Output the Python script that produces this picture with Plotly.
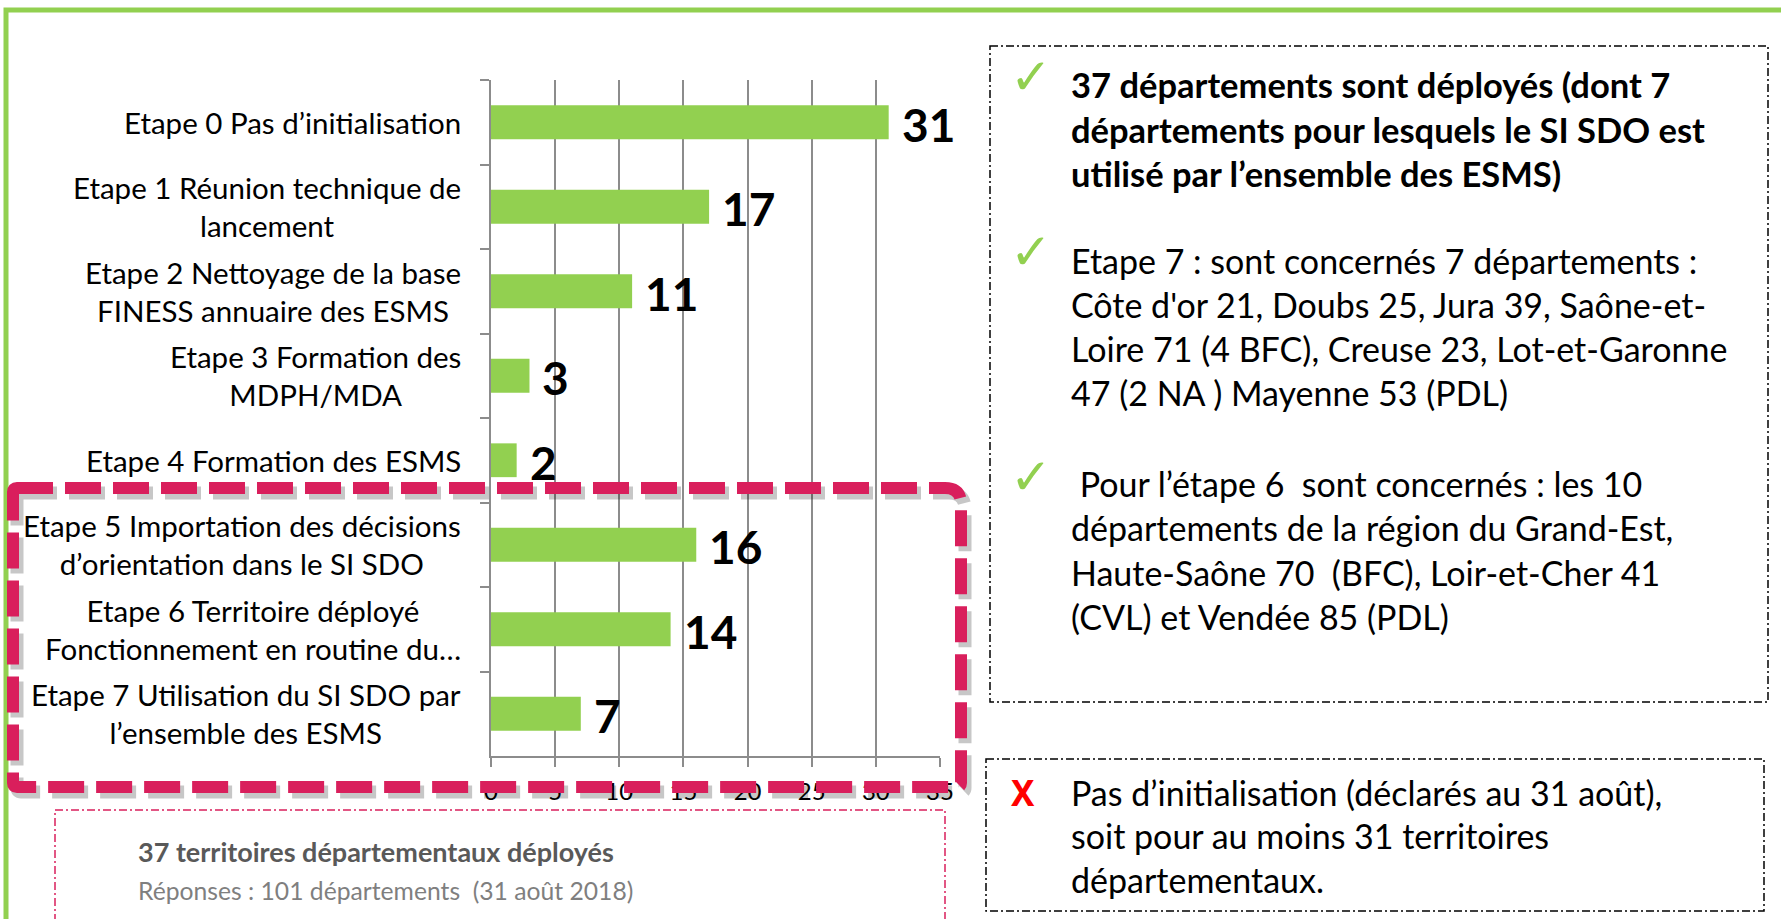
import plotly.graph_objects as go

# ---------------- data ----------------
categories = [
    "Etape 0 Pas d’initialisation",
    "Etape 1 Réunion technique de<br>lancement",
    "Etape 2 Nettoyage de la base<br>FINESS annuaire des ESMS",
    "Etape 3 Formation des<br>MDPH/MDA",
    "Etape 4 Formation des ESMS",
    "Etape 5 Importation des décisions<br>d’orientation dans le SI SDO",
    "Etape 6 Territoire déployé<br>Fonctionnement en routine du…",
    "Etape 7 Utilisation du SI SDO par<br>l’ensemble des ESMS",
]
values = [31, 17, 11, 3, 2, 16, 14, 7]
x_ticks = [0, 5, 10, 15, 20, 25, 30, 35]

box1_bold = [
    "37 départements sont déployés (dont 7",
    "départements pour lesquels le SI SDO est",
    "utilisé par l’ensemble des ESMS)",
]
box1_b2 = [
    "Etape 7 : sont concernés 7 départements :",
    "Côte d'or 21, Doubs 25, Jura 39, Saône-et-",
    "Loire 71 (4 BFC), Creuse 23, Lot-et-Garonne",
    "47 (2 NA ) Mayenne 53 (PDL)",
]
box1_b3 = [
    " Pour l’étape 6  sont concernés : les 10",
    "départements de la région du Grand-Est,",
    "Haute-Saône 70  (BFC), Loir-et-Cher 41",
    "(CVL) et Vendée 85 (PDL)",
]
box2_lines = [
    "Pas d’initialisation (déclarés au 31 août),",
    "soit pour au moins 31 territoires",
    "départementaux.",
]
note_bold = "37 territoires départementaux déployés"
note_line = "Réponses : 101 départements  (31 août 2018)"

# ---------------- geometry ----------------
W, H = 1781, 919
ML, MR, MT, MB = 491, 841, 80, 163
PW = W - ML - MR
PH = H - MT - MB


def px(x):
    return (x - ML) / PW


def py(y):
    return 1 - (y - MT) / PH


FONT = "Lato"
GREEN = "#92D050"
PINK = "#D91F5C"
GRID = "#8C8C8C"

fig = go.Figure(
    go.Bar(
        x=values,
        y=categories,
        orientation="h",
        marker=dict(color=GREEN, line=dict(width=0)),
        width=0.4,
        hoverinfo="skip",
    )
)

annotations = []
# category labels (centered multi-line, right edge near axis)
for c in categories:
    annotations.append(dict(
        x=px(463), xref="paper", y=c, yref="y", text=c, showarrow=False,
        xanchor="right", yanchor="middle", align="center",
        font=dict(family=FONT, size=29.5, color="#000000"),
    ))
# value labels
for c, v in zip(categories, values):
    annotations.append(dict(
        x=v, xref="x", y=c, yref="y", text="<b>%d</b>" % v, showarrow=False,
        xanchor="left", yanchor="middle", xshift=11, yshift=-2,
        font=dict(family=FONT, size=46, color="#000000"),
    ))


def text_line(x, y, t, size=34, color="#000000", family=FONT, anchor="left"):
    annotations.append(dict(
        x=px(x), xref="paper", y=py(y), yref="paper", text=t, showarrow=False,
        xanchor=anchor, yanchor="middle", align="left",
        font=dict(family=family, size=size, color=color),
    ))


TX = 1069
for i, t in enumerate(box1_bold):
    text_line(TX, 85 + i * 44, "<b>%s</b>" % t, size=34.5)
for i, t in enumerate(box1_b2):
    text_line(TX, 260 + i * 44.3, t)
for i, t in enumerate(box1_b3):
    text_line(TX, 483 + i * 44.5, t)
for i, t in enumerate(box2_lines):
    text_line(TX, 792 + i * 43.5, t)

for yy in (77, 252, 477):
    text_line(1031, yy, "✓", size=50, color=GREEN, family="DejaVu Sans", anchor="center")
text_line(1023, 792, "<b>X</b>", size=35, color="#FF0000", family="Noto Sans", anchor="center")

text_line(136, 851, "<b>%s</b>" % note_bold, size=27, color="#595959")
text_line(136, 890, note_line, size=24.7, color="#7F7F7F")

shapes = []
# green outer frame
shapes.append(dict(type="rect", xref="paper", yref="paper",
                   x0=px(6), x1=px(1810), y0=py(10), y1=py(940),
                   line=dict(color=GREEN, width=5), layer="below"))


def rect(x0, y0, x1, y1, color, width, dash):
    shapes.append(dict(type="rect", xref="paper", yref="paper",
                       x0=px(x0), x1=px(x1), y0=py(y0), y1=py(y1),
                       line=dict(color=color, width=width, dash=dash)))


DD = "8px,3px,2px,3px"
rect(990, 46, 1768, 702, "#000000", 1.5, DD)
rect(986, 759, 1764, 911, "#000000", 1.5, DD)
rect(55, 810, 945, 960, PINK, 1.5, DD)


def rounded_path(L, T, R, B, rtr, r):
    pts = []
    pts.append("M%.5f,%.5f" % (px(L + r), py(T)))
    pts.append("L%.5f,%.5f" % (px(R - rtr), py(T)))
    pts.append("Q%.5f,%.5f %.5f,%.5f" % (px(R), py(T), px(R), py(T + rtr)))
    pts.append("L%.5f,%.5f" % (px(R), py(B - r)))
    pts.append("Q%.5f,%.5f %.5f,%.5f" % (px(R), py(B), px(R - r), py(B)))
    pts.append("L%.5f,%.5f" % (px(L + r), py(B)))
    pts.append("Q%.5f,%.5f %.5f,%.5f" % (px(L), py(B), px(L), py(B - r)))
    pts.append("L%.5f,%.5f" % (px(L), py(T + r)))
    pts.append("Q%.5f,%.5f %.5f,%.5f" % (px(L), py(T), px(L + r), py(T)))
    pts.append("Z")
    return " ".join(pts)


L0, T0, R0, B0 = 13, 488, 961, 787
shapes.append(dict(type="path", xref="paper", yref="paper",
                   path=rounded_path(L0 + 4, T0 + 5, R0 + 4, B0 + 5, 16, 4),
                   line=dict(color="rgba(0,0,0,0.22)", width=13, dash="36px,12px")))
shapes.append(dict(type="path", xref="paper", yref="paper",
                   path=rounded_path(L0, T0, R0, B0, 16, 4),
                   line=dict(color=PINK, width=12, dash="36px,12px")))

fig.update_layout(
    width=W, height=H,
    margin=dict(l=ML, r=MR, t=MT, b=MB, pad=0),
    paper_bgcolor="white", plot_bgcolor="white",
    showlegend=False,
    bargap=0.6,
    xaxis=dict(
        range=[0, 35], tickvals=x_ticks, ticktext=[str(t) for t in x_ticks],
        showgrid=True, gridcolor=GRID, gridwidth=1.5,
        zeroline=False, showline=True, linecolor=GRID, linewidth=1.5,
        ticks="outside", ticklen=9, tickcolor=GRID, tickwidth=1.5,
        tickfont=dict(family=FONT, size=24, color="#000000"),
        ticklabelstandoff=4, fixedrange=True,
    ),
    yaxis=dict(
        type="category", categoryorder="array", categoryarray=categories,
        autorange="reversed", showticklabels=False,
        ticks="outside", tickson="boundaries", ticklen=9, tickcolor=GRID, tickwidth=1.5,
        showline=True, linecolor=GRID, linewidth=1.5, showgrid=False,
        fixedrange=True,
    ),
    annotations=annotations,
    shapes=shapes,
)

fig.write_html("out.html", config={"displayModeBar": False},
               post_script="document.body.style.margin='0';document.body.style.overflow='hidden';")
